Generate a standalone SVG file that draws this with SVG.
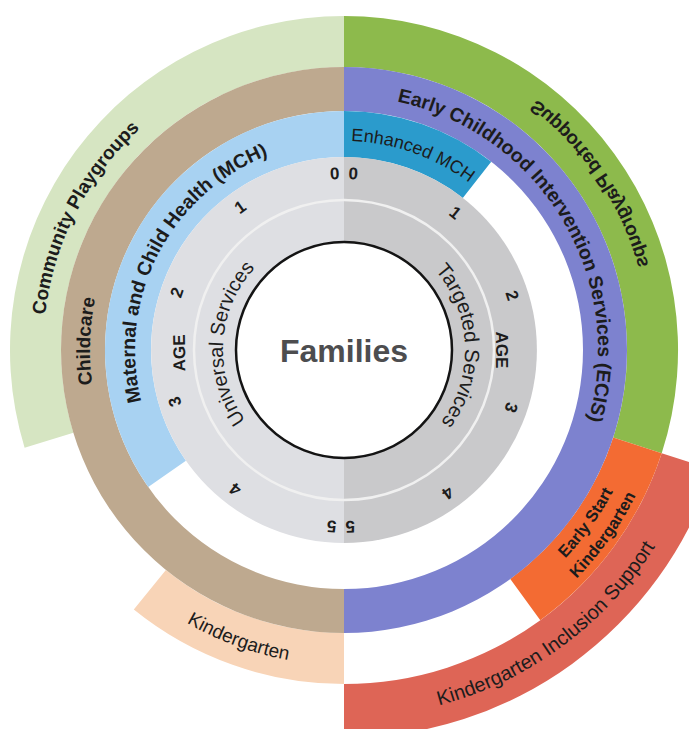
<svg xmlns="http://www.w3.org/2000/svg" width="689" height="729" viewBox="0 0 689 729">
  <style>
    .lbl { font-family: "Liberation Sans", Arial, sans-serif; fill: #1c1c1c; }
    .b { font-weight: bold; }
    .num { font-family: "Liberation Sans", Arial, sans-serif; font-weight: bold; font-size: 17px; fill: #1c1c1c; text-anchor: middle; }
  </style>
  <defs>
    <!-- text baselines, centre of the wheel at (344,350) -->
    <path id="arcCommunity" d="M50.7,417.7 A301,301 0 0 1 226.4,72.9"/>
    <path id="arcChildcare" d="M119.7,469.3 A254,254 0 0 1 128.6,215.4"/>
    <path id="arcMCH" d="M151.3,430.8 A209,209 0 0 1 297.9,146.2"/>
    <path id="arcUniversal" d="M260.7,437.8 A121,121 0 0 1 272,252.7"/>
    <path id="arcTargeted" d="M418.2,254.4 A121,121 0 0 1 425.3,439.6"/>
    <path id="arcEnhanced" d="M237.6,170.1 A209,209 0 0 1 539.6,276.5"/>
    <path id="arcECIS" d="M361.9,96.6 A254,254 0 0 1 576,453.5"/>
    <path id="arcSupported" d="M547.1,107.9 A316,316 0 0 0 140.9,107.9"/>
    <path id="arcKinder" d="M47.8,457.2 A315,315 0 0 0 501,623.1"/>
    <path id="arcKIS" d="M196.4,687.1 A368,368 0 0 0 709.8,309.3"/>
    <path id="arcESK1" d="M420.1,644.3 A304,304 0 0 0 647,326.1"/>
    <path id="arcESK2" d="M425.6,665.6 A326,326 0 0 0 669,324.4"/>
  </defs>

  <rect width="689" height="729" fill="#ffffff"/>

  <!-- outer service bands -->
  <g id="community-playgroups">
    <path d="M24.6,447.7 A334,334 0 0 1 344,16 L344,67 A283,283 0 0 0 73.4,432.7 Z" fill="#d6e5c2"/>
    <text class="lbl b" font-size="19"><textPath href="#arcCommunity" startOffset="50%" text-anchor="middle">Community Playgroups</textPath></text>
  </g>

  <g id="kindergarten">
    <path d="M344,684 A334,334 0 0 1 133.8,609.6 L165.9,569.9 A283,283 0 0 0 344,633 Z" fill="#f8d4b7"/>
    <text class="lbl" font-size="19"><textPath href="#arcKinder" startOffset="50%" text-anchor="middle">Kindergarten</textPath></text>
  </g>

  <g id="supported-playgroups">
    <path d="M344,16 A334,334 0 0 1 661.7,453.2 L613.2,437.45 A283,283 0 0 0 344,67 Z" fill="#8dba4c"/>
    <text class="lbl b" font-size="19" transform="rotate(56 344 350) translate(688 0) scale(-1 1)"><textPath href="#arcSupported" startOffset="50%" text-anchor="middle">Supported Playgroups</textPath></text>
  </g>

  <g id="kindergarten-inclusion-support">
    <path d="M661.7,453.2 L713,469.9 A388,388 0 0 1 344,738 L344,684 A334,334 0 0 0 661.7,453.2 Z" fill="#de6556"/>
    <text class="lbl" font-size="20" fill="#3a2424"><textPath href="#arcKIS" startOffset="50%" text-anchor="middle">Kindergarten Inclusion Support</textPath></text>
  </g>

  <g id="early-start-kindergarten">
    <path d="M661.7,453.2 A334,334 0 0 1 540.3,620.2 L510.3,578.9 A283,283 0 0 0 613.2,437.45 Z" fill="#f36b33"/>
    <text class="lbl b" font-size="16.5" fill="#2a1c12"><textPath href="#arcESK1" startOffset="50%" text-anchor="middle">Early Start</textPath></text>
    <text class="lbl b" font-size="16.5" fill="#2a1c12"><textPath href="#arcESK2" startOffset="50%" text-anchor="middle">Kindergarten</textPath></text>
  </g>

  <!-- middle bands -->
  <g id="childcare">
    <path d="M344,633 A283,283 0 0 1 344,67 L344,111 A239,239 0 0 0 344,589 Z" fill="#bea98f"/>
    <text class="lbl b" font-size="19"><textPath href="#arcChildcare" startOffset="50%" text-anchor="middle">Childcare</textPath></text>
  </g>

  <g id="ecis">
    <path d="M344,67 A283,283 0 0 1 344,633 L344,589 A239,239 0 0 0 344,111 Z" fill="#7d82cf"/>
    <text class="lbl b" font-size="19.5" fill="#25285c"><textPath href="#arcECIS" startOffset="50%" text-anchor="middle">Early Childhood Intervention Services (ECIS)</textPath></text>
  </g>

  <g id="mch">
    <path d="M148.2,487.1 A239,239 0 0 1 344,111 L344,157 A193,193 0 0 0 185.9,460.7 Z" fill="#a8d2f2"/>
    <text class="lbl b" font-size="19.5"><textPath href="#arcMCH" startOffset="50%" text-anchor="middle">Maternal and Child Health (MCH)</textPath></text>
  </g>

  <g id="enhanced-mch">
    <path d="M344,111 A239,239 0 0 1 491.2,161.7 L462.8,197.9 A193,193 0 0 0 344,157 Z" fill="#2b9bcc"/>
    <text class="lbl" font-size="18" fill="#1a3562"><textPath href="#arcEnhanced" startOffset="50%" text-anchor="middle">Enhanced MCH</textPath></text>
  </g>

  <!-- age disc -->
  <g id="age-disc">
    <path d="M344,157 A193,193 0 0 0 344,543 Z" fill="#dedfe3"/>
    <path d="M344,157 A193,193 0 0 1 344,543 Z" fill="#c9c9cb"/>
    <circle cx="344" cy="350" r="150" fill="none" stroke="#f0f0f0" stroke-width="2.5"/>
    <text class="lbl" font-size="20"><textPath href="#arcUniversal" startOffset="50%" text-anchor="middle">Universal Services</textPath></text>
    <text class="lbl" font-size="20.5"><textPath href="#arcTargeted" startOffset="50%" text-anchor="middle">Targeted Services</textPath></text>
    <text class="num" x="344" y="191" font-size="18" transform="rotate(-91 344 350)">AGE</text>
    <text class="num" x="344" y="198" font-size="18" transform="rotate(90 344 350)">AGE</text>
    <!-- universal side ages -->
    <text class="num" x="344" y="179" transform="rotate(-3 344 350)">0</text>
    <text class="num" x="344" y="179" transform="rotate(-36 344 350)">1</text>
    <text class="num" x="344" y="179" transform="rotate(-71 344 350)">2</text>
    <text class="num" x="344" y="179" transform="rotate(-107 344 350)">3</text>
    <text class="num" x="344" y="179" transform="rotate(-142 344 350)">4</text>
    <text class="num" x="344" y="179" transform="rotate(-176 344 350)">5</text>
    <!-- targeted side ages -->
    <text class="num" x="344" y="179" transform="rotate(3 344 350)">0</text>
    <text class="num" x="344" y="179" transform="rotate(39 344 350)">1</text>
    <text class="num" x="344" y="179" transform="rotate(72 344 350)">2</text>
    <text class="num" x="344" y="179" transform="rotate(109 344 350)">3</text>
    <text class="num" x="344" y="179" transform="rotate(144 344 350)">4</text>
    <text class="num" x="344" y="179" transform="rotate(178 344 350)">5</text>
  </g>

  <g id="families">
    <circle cx="344" cy="350" r="108" fill="#ffffff" stroke="#141414" stroke-width="2.5"/>
    <text x="344" y="362" font-family="Liberation Sans, Arial, sans-serif" font-weight="bold" font-size="32" fill="#4d4d4f" text-anchor="middle">Families</text>
  </g>
</svg>
